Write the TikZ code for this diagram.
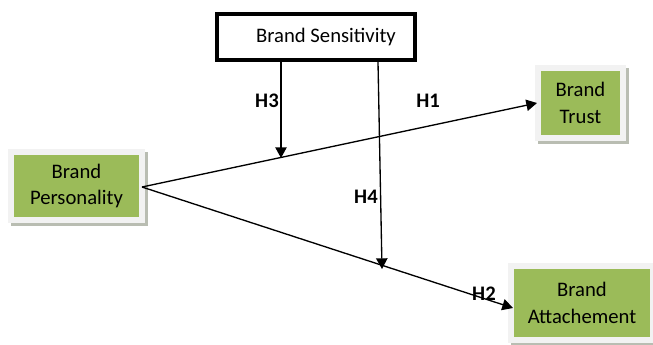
\documentclass[tikz,border=0pt]{standalone}
\usepackage{fontspec}
\setmainfont{Carlito}
\usetikzlibrary{arrows.meta}
\definecolor{olive}{HTML}{9BBB59}
\definecolor{framec}{HTML}{F2F2F2}
\definecolor{shadowc}{HTML}{B9BDB2}
\tikzset{
  px/.style={x=0.75pt,y=-0.75pt},
  lbl/.style={font=\fontsize{15.5}{20}\selectfont, align=center, text=black},
  hlbl/.style={font=\fontsize{15.5}{18}\selectfont\bfseries, text=black},
  conn/.style={line width=1pt, -{Triangle[length=8pt,width=8.5pt]}},
}
\newcommand{\greenbox}[6]{%
  % #1 name, #2 x1, #3 y1, #4 x2, #5 y2, #6 text
  \fill[shadowc] (#2+3,#3+3) rectangle (#4+3,#5+3);
  \fill[framec] (#2,#3) rectangle (#4,#5);
  \fill[olive] (#2+6,#3+6) rectangle (#4-6,#5-6);
  \node[lbl, minimum width={(#4-#2)*0.75pt}, minimum height={(#5-#3)*0.75pt}, inner sep=0pt] (#1) at ({(#2+#4)/2},{(#3+#5)/2}) {#6};
}
\begin{document}
\begin{tikzpicture}[px]
\useasboundingbox (0,0) rectangle (653,344);
\fill[white] (0,0) rectangle (653,344);
% Brand Sensitivity
\draw[line width=3.5pt, fill=white] (217,14) rectangle (415,60);
\node[lbl] (bs) at (326,37) {Brand Sensitivity};
\greenbox{bp}{8}{149}{145}{223}{Brand\\Personality}
\greenbox{bt}{535}{65}{626}{141}{Brand\\Trust}
\greenbox{ba}{508}{263}{656}{343}{Brand\\Attachement}
\coordinate (o) at (142,187);
\coordinate (t1) at (537,103);
\coordinate (t2) at (513,308);
\draw[conn] (o) -- (t1);
\draw[conn] (o) -- (t2);
\coordinate (s3) at (281,62);
\coordinate (e3) at (281,158);
\coordinate (s4) at (378,62);
\coordinate (e4) at (382,269);
\draw[conn] (s3) -- (e3);
\draw[conn] (s4) -- (e4);
\node[hlbl] (h3) at (267,101) {H3};
\node[hlbl] (h4) at (366,197) {H4};
\node[hlbl] (h1) at (428,101) {H1};
\node[hlbl] (h2) at (484,294) {H2};
\end{tikzpicture}
\end{document}
